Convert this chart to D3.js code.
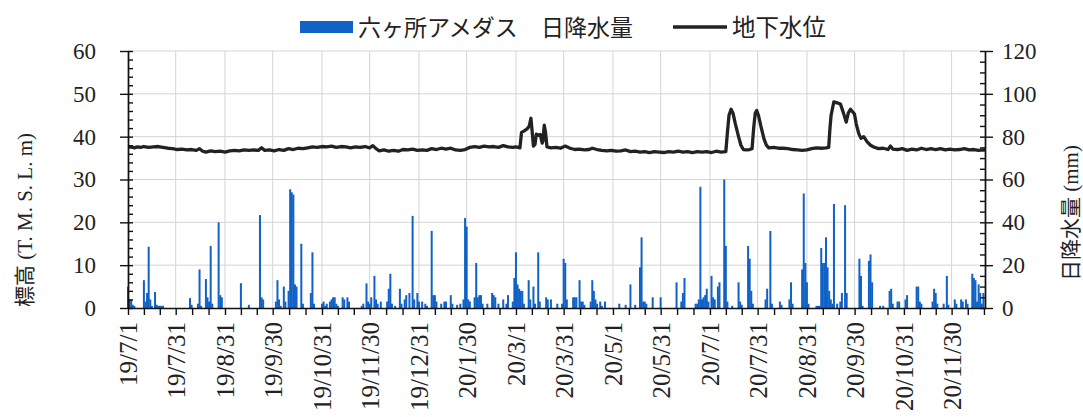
<!DOCTYPE html>
<html lang="ja">
<head>
<meta charset="utf-8">
<title>地下水位と日降水量</title>
<script src="https://cdn.jsdelivr.net/npm/d3@7/dist/d3.min.js"></script>
<style>
body { margin: 0; background: #fff; }
text { font-family: "Liberation Serif", "Noto Sans CJK JP", serif; fill: #222; }
.grid line { stroke: #d4d4d4; stroke-width: 1px; }
.axis path, .axis line { stroke: #111; stroke-width: 1.4px; }
.jp { font-family: "Noto Sans CJK JP", sans-serif; }
</style>
</head>
<body>
<script>
// x axis labels (dates shown below the axis)
var xLabels = ["19/7/1","19/7/31","19/8/31","19/9/30","19/10/31","19/11/30","19/12/31",
  "20/1/30","20/3/1","20/3/31","20/5/1","20/5/31","20/7/1","20/7/31","20/8/31",
  "20/9/30","20/10/31","20/11/30"];
var leftTicks = [0,10,20,30,40,50,60];
var rightTicks = [0,20,40,60,80,100,120];

// daily rainfall: day offset from 2019/7/1, mm
var rainDay = [0,1,2,3,4,10,11,12,13,14,15,17,18,19,20,21,22,39,40,44,45,46,49,50,51,52,53,57,58,59,71,76,83,84,85,
  93,94,95,96,98,99,101,102,103,104,105,106,109,110,115,116,117,122,123,124,125,127,128,129,130,131,132,135,136,138,139,
  147,148,150,151,152,153,155,156,157,159,163,164,165,166,168,171,172,174,175,177,179,180,182,183,185,187,188,191,192,193,194,
  197,199,200,203,204,207,209,211,212,213,214,215,218,219,220,221,222,223,226,229,230,231,233,236,238,239,
  242,243,244,245,246,247,248,249,252,253,255,256,258,259,263,264,266,270,273,274,275,276,280,281,282,284,285,286,287,
  291,292,293,294,295,297,298,300,309,313,316,319,322,323,324,325,326,330,335,345,348,349,350,357,
  358,359,360,361,362,363,364,365,367,368,369,371,372,375,376,377,380,384,385,386,390,391,392,393,
  401,402,404,405,410,411,416,417,418,424,425,426,427,428,433,434,435,436,437,438,439,440,441,442,443,444,
  446,448,449,451,452,460,461,462,466,467,468,473,475,479,480,481,484,485,489,490,496,497,498,499,
  506,507,508,509,513,515,516,520,521,524,525,527,528,531,532,533,534,535,536,537,538];
var rainMm = [10,4,4,1.5,1,13,3,7,28.6,4,1,7.5,1.5,1,1,1,1,4.6,1.5,2,18,1,13.5,5,3,29,2,40,6,5,11.6,1.5,43.4,5,4,
  3,13,4,1,10,3,8,55.4,54,53,11,10,30,2,7,26,2,2,3,1,2,3,4,5,5,2,1,5,4,5,3,
  1,2,11.5,3,2,5,15,4,2,3,3,9,16,2,1,9,2,4,6,7,43,4,7,3,3,2,1,36,6,6,3,
  2,3,3,6,2,1.5,2,4,42,38,4,3,5,21,5,6,6,2,2,7,6,5,2,4,2,6,
  3,14,26,11,9,8,8,2,13,4,10,2,26,3,5,4,4,2,2,23,21,4,5,5,5,13,3,3,1.5,
  3,13,8,4,2,3,1,3,2,1.5,11,1.5,19,33,3,3,2,5,5,12,3,7,14,2,
  2,4,56.6,4,5,6,9,3,15,5,4,10,12,60,29,3,1,12,3,1.5,29,23,8,2,
  4,9,36,2,3,1.5,4,12,2,18,53.5,21,12,2,1,1,1,28,21,21,33,19,8,4,2,48.6,
  2,3,7,48,7,23,15,1,22,25,12,1,1,8,9,2,3,3,4,6,10,10,3,2,
  3,9,7,2,2,15,1.5,4,2,4,3,4,2,16,14,13,3,11,7,2,7];

// groundwater level: day offset from 2019/7/1, T.M.S.L. m
var gwDay = [0,2,4,6,8,10,13,16,19,22,25,28,31,34,37,40,43,45,47,49,52,55,58,61,64,67,70,73,76,79,82,84,86,89,
  92,95,98,101,104,107,110,113,116,119,122,125,128,131,134,137,140,143,146,149,152,154,156,158,161,164,167,170,
  173,176,179,182,185,188,191,194,197,200,203,206,209,212,215,218,221,224,227,230,233,236,239,242,244,
  246.5,247.5,249,251,252.4,253.4,254,255,256,256.8,258,259.3,260.5,261,261.8,262.6,263.5,
  266,269,272,275,278,281,284,287,290,292,295,298,301,304,307,310,313,316,319,322,325,328,331,334,337,340,
  343,346,349,352,355,358,361,364,367,370,373,376,377,378,379.3,380.5,382,384,385.5,387,389,391,392.5,
  393.5,394.5,395.4,396.5,398,400,401.5,403,406,409,412,415,418,421,424,427,430,433,436,439,
  440.7,441.5,442.2,443.9,446,448.1,450,451.7,453,454.4,456.9,458,459.6,461,462.7,464.9,467,469,
  472,475,478,479.5,481,484,487,490,493,496,499,502,505,508,511,514,517,520,523,526,529,532,535,538,539];
var gwLevel = [37.5,37.6,37.4,37.6,37.5,37.7,37.5,37.6,37.7,37.5,37.3,37.2,37.0,37.1,36.9,37.0,36.8,37.2,36.6,36.4,
  36.7,36.5,36.6,36.4,36.7,36.8,36.7,36.9,36.8,36.9,36.8,37.4,36.8,36.9,
  36.7,37.0,36.8,37.2,37.0,37.3,37.2,37.4,37.6,37.5,37.7,37.6,37.8,37.5,37.7,37.6,37.4,37.6,37.5,37.7,37.4,37.9,37.2,36.7,
  36.9,36.6,36.8,36.6,37.0,36.9,37.1,36.8,36.9,36.8,37.2,37.0,37.3,37.1,37.3,36.9,36.8,37.0,37.5,37.7,37.5,37.8,37.6,
  37.7,37.5,37.9,37.6,37.5,37.6,
  37.4,41.0,41.3,41.8,42.5,44.3,42.0,37.8,38.2,40.6,40.3,40.5,38.5,39.0,42.7,41.0,37.6,
  37.4,37.5,37.3,37.8,37.3,37.0,37.1,36.9,37.0,37.3,37.0,36.8,36.7,36.8,36.6,36.7,36.9,36.5,36.6,36.4,36.5,36.3,
  36.5,36.4,36.3,36.5,36.4,36.6,36.4,36.5,36.3,36.5,36.4,36.5,36.3,36.6,36.4,36.5,41.0,45.0,46.4,45.5,43.0,40.0,
  38.0,37.0,36.9,37.0,37.2,42.0,45.5,46.1,45.0,42.5,39.5,38.0,37.4,37.5,37.3,37.3,37.2,37.0,36.9,36.8,36.9,37.2,
  37.4,37.3,37.4,37.5,42.0,45.0,48.1,47.9,47.6,45.5,43.4,45.5,46.4,45.3,43.0,40.7,39.6,40.0,38.8,38.0,37.6,
  37.2,37.3,37.0,37.8,37.1,37.0,37.2,36.8,37.1,36.9,37.3,37.0,37.2,37.0,37.2,36.9,37.1,36.9,37.0,37.2,36.9,37.0,
  36.8,36.9,36.8];

var w = 1083, h = 417;
var pLeft = 128, pRight = 985, pTop = 51, pBottom = 308;

var t0 = new Date(2019, 6, 1);
function dayToDate(d) { return new Date(t0.getTime() + d * 864e5); }
var parseLbl = d3.timeParse("%y/%m/%d");
var majors = xLabels.map(parseLbl);
var tEnd = dayToDate(539);

// minor ticks: two between each pair of labelled dates
var minors = [];
for (var i = 0; i < majors.length; i++) {
  var a = majors[i].getTime();
  var b = i < majors.length - 1 ? majors[i + 1].getTime() : a + 30.5 * 864e5;
  minors.push(new Date(a + (b - a) / 3), new Date(a + 2 * (b - a) / 3));
}

var x = d3.scaleTime().domain([t0, tEnd]).range([pLeft, pRight]);
var yL = d3.scaleLinear().domain([0, 60]).range([pBottom, pTop]);
var yR = d3.scaleLinear().domain([0, 120]).range([pBottom, pTop]);

var svg = d3.select("body").append("svg")
  .attr("width", w)
  .attr("height", h);

// gridlines
var grid = svg.append("g").attr("class", "grid");
grid.selectAll(".hg").data(leftTicks.slice(1)).enter().append("line")
  .attr("x1", pLeft).attr("x2", pRight)
  .attr("y1", function(d) { return yL(d); })
  .attr("y2", function(d) { return yL(d); });
grid.selectAll(".vg").data(majors.slice(1)).enter().append("line")
  .attr("x1", function(d) { return x(d); })
  .attr("x2", function(d) { return x(d); })
  .attr("y1", pTop).attr("y2", pBottom);

// rain bars (right axis)
var bw = 2;
svg.append("g").selectAll("rect").data(rainDay).enter().append("rect")
  .attr("x", function(d) { return x(dayToDate(d)) - bw / 2; })
  .attr("width", bw)
  .attr("y", function(d, i) { return yR(rainMm[i]); })
  .attr("height", function(d, i) { return pBottom - yR(rainMm[i]); })
  .attr("fill", "#1062c6");

// groundwater line (left axis)
var line = d3.line()
  .x(function(d) { return x(dayToDate(d)); })
  .y(function(d, i) { return yL(gwLevel[i]); });
svg.append("path")
  .attr("d", line(gwDay))
  .attr("fill", "none")
  .attr("stroke", "#222")
  .attr("stroke-width", 3.3)
  .attr("stroke-linejoin", "round");

// left axis
var la = svg.append("g").attr("class", "axis").attr("transform", "translate(" + pLeft + ",0)");
la.call(d3.axisLeft(yL).tickValues(leftTicks).tickSize(8).tickSizeOuter(0).tickPadding(24));
la.selectAll("text").style("font-size", "23px");
svg.append("g").attr("class", "axis").attr("transform", "translate(" + pLeft + ",0)")
  .call(d3.axisRight(yL).tickValues(d3.range(0, 61, 2)).tickSize(5).tickSizeOuter(0).tickFormat(""));

// right axis
var ra = svg.append("g").attr("class", "axis").attr("transform", "translate(" + pRight + ",0)");
ra.call(d3.axisRight(yR).tickValues(rightTicks).tickSize(8).tickSizeOuter(0).tickPadding(9));
ra.selectAll("text").style("font-size", "23px");
svg.append("g").attr("class", "axis").attr("transform", "translate(" + pRight + ",0)")
  .call(d3.axisLeft(yR).tickValues(d3.range(0, 121, 5)).tickSize(5).tickSizeOuter(0).tickFormat(""));

// x axis
var xa = svg.append("g").attr("class", "axis").attr("transform", "translate(0," + pBottom + ")");
xa.call(d3.axisBottom(x).tickValues(majors).tickSize(7).tickSizeOuter(0)
  .tickFormat(function(d, i) { return xLabels[i]; }));
xa.selectAll("text")
  .style("font-size", "25px")
  .attr("text-anchor", "end")
  .attr("transform", "rotate(-90)")
  .attr("x", -14).attr("y", 0).attr("dy", "0.35em");
svg.append("g").attr("class", "axis").attr("transform", "translate(0," + pBottom + ")")
  .call(d3.axisBottom(x).tickValues(minors).tickSize(7).tickSizeOuter(0).tickFormat(""))
  .select(".domain").remove();

// axis titles
svg.append("text")
  .attr("transform", "translate(32,220) rotate(-90)")
  .attr("text-anchor", "middle")
  .style("font-size", "21px")
  .text("標高 (T. M. S. L. m)");
svg.append("text")
  .attr("transform", "translate(1078,213) rotate(-90)")
  .attr("text-anchor", "middle")
  .style("font-size", "21px")
  .text("日降水量 (mm)");

// legend
svg.append("rect")
  .attr("x", 300).attr("y", 21).attr("width", 53).attr("height", 12)
  .attr("fill", "#1062c6");
var lg = svg.append("text").attr("class", "jp")
  .attr("y", 36)
  .style("font-size", "23px");
lg.append("tspan").attr("x", 358).text("六ヶ所アメダス");
lg.append("tspan").attr("x", 541).text("日降水量");
svg.append("line")
  .attr("x1", 673).attr("x2", 727).attr("y1", 27).attr("y2", 27)
  .attr("stroke", "#222").attr("stroke-width", 3.5);
svg.append("text").attr("class", "jp")
  .attr("x", 732).attr("y", 36)
  .style("font-size", "23.5px")
  .text("地下水位");
</script>
</body>
</html>
